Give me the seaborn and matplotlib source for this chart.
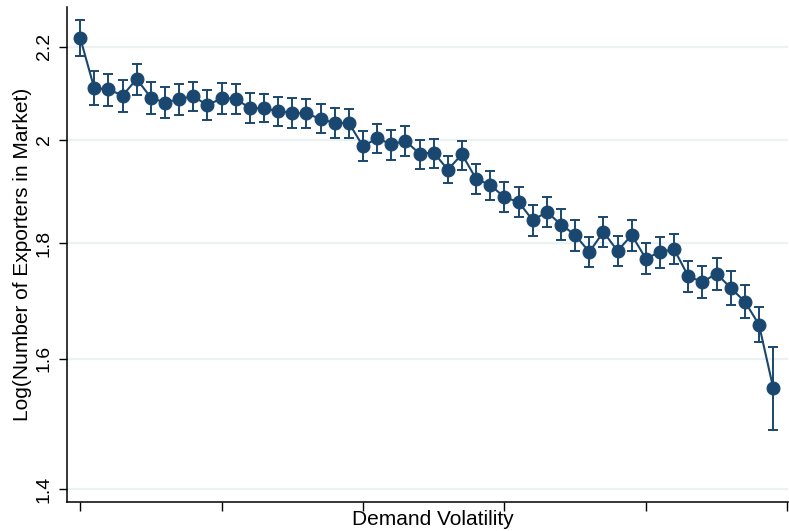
import numpy as np
import pandas as pd
import matplotlib
matplotlib.use("Agg")
import matplotlib.pyplot as plt
import seaborn as sns

# --- data ---
bins = list(range(50))
mean = [2.2204, 2.1086, 2.1064, 2.0927, 2.1287, 2.0884, 2.0778, 2.0857, 2.0914, 2.0723,
        2.0872, 2.0863, 2.0659, 2.0659, 2.0596, 2.0561, 2.0550, 2.0435, 2.0352, 2.0352,
        1.9873, 2.0036, 1.9914, 1.9981, 1.9724, 1.9744, 1.9404, 1.9712, 1.9220, 1.9103,
        1.8865, 1.8774, 1.8427, 1.8584, 1.8346, 1.8152, 1.7840, 1.8208, 1.7858, 1.8152,
        1.7718, 1.7840, 1.7889, 1.7402, 1.7301, 1.7449, 1.7196, 1.6957, 1.6563, 1.5531]
ci_low = [2.1793, 2.0723, 2.0714, 2.0588, 2.0942, 2.0546, 2.0450, 2.0519, 2.0609, 2.0420,
          2.0546, 2.0546, 2.0346, 2.0366, 2.0289, 2.0254, 2.0254, 2.0135, 2.0048, 2.0048,
          1.9583, 1.9738, 1.9597, 1.9683, 1.9418, 1.9432, 1.9136, 1.9404, 1.8934, 1.8813,
          1.8578, 1.8483, 1.8139, 1.8301, 1.8056, 1.7863, 1.7563, 1.7925, 1.7581, 1.7852,
          1.7443, 1.7556, 1.7622, 1.7131, 1.7026, 1.7161, 1.6905, 1.6672, 1.6273, 1.4874]
ci_high = [2.2609, 2.1462, 2.1403, 2.1265, 2.1622, 2.1222, 2.1107, 2.1185, 2.1228, 2.1049,
           2.1194, 2.1179, 2.0985, 2.0970, 2.0906, 2.0878, 2.0857, 2.0746, 2.0659, 2.0645,
           2.0180, 2.0331, 2.0207, 2.0289, 2.0008, 2.0022, 1.9683, 1.9981, 1.9517, 1.9384,
           1.9156, 1.9058, 1.8711, 1.8876, 1.8644, 1.8432, 1.8121, 1.8489, 1.8139, 1.8432,
           1.8010, 1.8115, 1.8171, 1.7676, 1.7586, 1.7725, 1.7491, 1.7243, 1.6860, 1.6190]
y_ticks = [1.4, 1.6, 1.8, 2.0, 2.2]
y_ticklabels = ["1.4", "1.6", "1.8", "2", "2.2"]
x_ticks = [0, 10, 20, 30, 40, 50]
x_label = "Demand Volatility"
y_label = "Log(Number of Exporters in Market)"

df = pd.DataFrame({"bin": bins, "mean": mean, "lo": ci_low, "hi": ci_high})

sns.set_theme(style="white")
plt.rcParams["font.family"] = ["Liberation Sans", "DejaVu Sans"]

navy = "#1a476f"
grid_c = "#eaf2f3"

fig = plt.figure(figsize=(7.89, 5.31), dpi=100)
ax = fig.add_axes([66.7 / 789, 29 / 531, (788 - 66.7) / 789, (502 - 7) / 531])

ax.set_yscale("log")
ax.set_ylim(1.382, 2.291)
ax.set_xlim(-0.95, 50.05)

for t in y_ticks:
    ax.axhline(t, color=grid_c, lw=1.6, zorder=0)

yerr = np.array([df["mean"] - df["lo"], df["hi"] - df["mean"]])
ax.errorbar(df["bin"], df["mean"], yerr=yerr, fmt="none", ecolor=navy,
            elinewidth=1.4, capsize=3.7, capthick=1.4, zorder=2)
sns.lineplot(data=df, x="bin", y="mean", ax=ax, color=navy, lw=1.5,
             marker="o", markersize=9.3, markeredgecolor=navy, markerfacecolor=navy,
             zorder=3)

ax.set_yticks(y_ticks)
ax.set_yticklabels(y_ticklabels, rotation=90, va="center", fontsize=14)
ax.yaxis.set_minor_locator(matplotlib.ticker.NullLocator())
ax.set_xticks(x_ticks)
ax.set_xticklabels([""] * len(x_ticks))

ax.tick_params(axis="y", left=True, length=6, width=1.0, color="black", pad=4, labelcolor="black")
ax.tick_params(axis="x", bottom=True, length=6.5, width=1.0, color="black", pad=0)

for s in ["top", "right"]:
    ax.spines[s].set_visible(False)
for s in ["left", "bottom"]:
    ax.spines[s].set_color("black")
    ax.spines[s].set_linewidth(1.1)

ax.set_xlabel(x_label, fontsize=15, color="black")
ax.xaxis.set_label_coords(0.508, -0.017, transform=ax.transAxes)
ax.xaxis.label.set_va("top")
ax.set_ylabel(y_label, fontsize=15, color="black", labelpad=3)

fig.savefig("out.png", dpi=100, facecolor="white")
